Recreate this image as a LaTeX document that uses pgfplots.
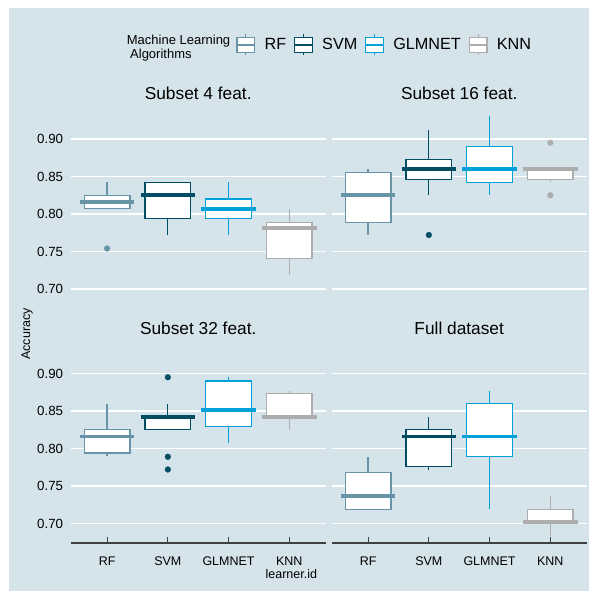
\documentclass[border=0pt]{standalone}
\usepackage{pgfplots}
\pgfplotsset{compat=1.18}
\usepgfplotslibrary{statistics}
\usepackage{fontspec}
\setmainfont{Liberation Sans}
\definecolor{bg}{HTML}{D5E4EB}
\definecolor{cRF}{HTML}{6794A7}
\definecolor{cSVM}{HTML}{014D64}
\definecolor{cGLM}{HTML}{01A2D9}
\definecolor{cKNN}{HTML}{ADADAD}
\definecolor{axgrey}{HTML}{3F3F3F}

\pgfplotsset{
  panel/.style={
    scale only axis, width=255pt, height=201pt,
    xmin=0.4, xmax=4.6, ymin=0.674, ymax=0.942,
    ytick={0.70,0.75,0.80,0.85,0.90},
    axis line style={draw=none},
    ymajorgrids, grid style={white, line width=1.8pt},
    ytick style={draw=none},
    yticklabel style={font=\fontsize{13.3}{14}\selectfont, inner sep=0pt, xshift=-7.4pt,
      /pgf/number format/.cd, fixed, fixed zerofill, precision=2, assume math mode=true},
  },
  toprow/.style={xtick=\empty},
  botrow/.style={
    xtick={1,2,3,4}, xticklabels={RF,SVM,GLMNET,KNN},
    tick align=inside, major tick length=6pt, xtick pos=bottom,
    xtick style={axgrey, line width=1.1pt},
    xticklabel style={font=\fontsize{12.5}{13}\selectfont, inner sep=0pt, yshift=-14pt},
    extra description/.code={\draw[axgrey, line width=1.1pt] (rel axis cs:0,0) -- (rel axis cs:1,0);},
  },
  noylab/.style={yticklabels={}},
  mybox/.style={
    draw=#1, line width=1.3pt,
    only marks, mark=*, mark size=2.9pt, mark options={solid, fill=#1, draw=#1, line width=0.3pt},
    boxplot/draw direction=y,
    boxplot/box extend=0.75,
    boxplot/draw/box/.code={\draw[#1, fill=white, line width=1.3pt] (boxplot box cs:\pgfplotsboxplotvalue{lower quartile},0) rectangle (boxplot box cs:\pgfplotsboxplotvalue{upper quartile},1);},
    boxplot/draw/median/.code={\draw[#1, line width=3.6pt] (boxplot box cs:\pgfplotsboxplotvalue{median},-0.1) -- (boxplot box cs:\pgfplotsboxplotvalue{median},1.1);},
    boxplot/draw/lower whisker/.code={\draw[#1, line width=1.3pt] (boxplot box cs:\pgfplotsboxplotvalue{lower whisker},0.5) -- (boxplot box cs:\pgfplotsboxplotvalue{lower quartile},0.5);},
    boxplot/draw/upper whisker/.code={\draw[#1, line width=1.3pt] (boxplot box cs:\pgfplotsboxplotvalue{upper quartile},0.5) -- (boxplot box cs:\pgfplotsboxplotvalue{upper whisker},0.5);},
  },
  legkey/.style={legend image code/.code={
    \draw[line width=1.2pt, fill=white] (0pt,-7.3pt) rectangle (17.7pt,7.3pt);
    \draw[line width=1.2pt] (0pt,0pt) -- (17.7pt,0pt) (8.85pt,7.3pt) -- (8.85pt,10.5pt) (8.85pt,-7.3pt) -- (8.85pt,-10.5pt);}},
}
% color, position, lower whisker, lower quartile, median, upper quartile, upper whisker, outliers
\newcommand{\bx}[8]{%
  \addplot[mybox=#1, boxplot prepared={draw direction=y, draw position=#2, lower whisker=#3, lower quartile=#4, median=#5, upper quartile=#6, upper whisker=#7}] coordinates {#8};
}

\begin{document}
\begin{tikzpicture}
\path[use as bounding box] (0pt,0pt) rectangle (589pt,-593pt);
\fill[white] (0pt,0pt) rectangle (589pt,-593pt);
\fill[bg] (9pt,-8pt) rectangle (589pt,-591pt);

% Subset 4 feat.
\begin{axis}[panel, toprow, at={(70.7pt,-308.5pt)}, anchor=south west,
  legend columns=4,
  legend style={at={(axis description cs:0.65,1.311)}, anchor=west, draw=none, fill=none,
    inner sep=0pt, outer sep=0pt,
    nodes={inner sep=0pt, font=\fontsize{16.2}{18}\selectfont},
    /tikz/every odd column/.append style={column sep=9.3pt},
    /tikz/every even column/.append style={column sep=7.8pt}},
]
\addlegendimage{cRF, legkey}\addlegendentry{RF}
\addlegendimage{cSVM, legkey}\addlegendentry{SVM}
\addlegendimage{cGLM, legkey}\addlegendentry{GLMNET}
\addlegendimage{cKNN, legkey}\addlegendentry{KNN}
\bx{cRF}{1}{0.807}{0.807}{0.816}{0.825}{0.842}{(0,0.754)}
\bx{cSVM}{2}{0.772}{0.794}{0.825}{0.842}{0.842}{}
\bx{cGLM}{3}{0.772}{0.794}{0.807}{0.820}{0.842}{}
\bx{cKNN}{4}{0.719}{0.741}{0.781}{0.789}{0.807}{}
\end{axis}

% Subset 16 feat.
\begin{axis}[panel, toprow, noylab, at={(331.7pt,-308.5pt)}, anchor=south west]
\bx{cRF}{1}{0.772}{0.789}{0.825}{0.855}{0.860}{}
\bx{cSVM}{2}{0.825}{0.846}{0.860}{0.873}{0.912}{(0,0.772)}
\bx{cGLM}{3}{0.825}{0.842}{0.860}{0.890}{0.930}{}
\bx{cKNN}{4}{0.843}{0.846}{0.860}{0.860}{0.860}{(0,0.895) (0,0.825)}
\end{axis}

% Subset 32 feat.
\begin{axis}[panel, botrow, at={(70.7pt,-543pt)}, anchor=south west]
\bx{cRF}{1}{0.790}{0.794}{0.816}{0.825}{0.860}{}
\bx{cSVM}{2}{0.825}{0.825}{0.842}{0.842}{0.860}{(0,0.895) (0,0.789) (0,0.772)}
\bx{cGLM}{3}{0.807}{0.829}{0.851}{0.890}{0.895}{}
\bx{cKNN}{4}{0.825}{0.842}{0.842}{0.873}{0.877}{}
\end{axis}

% Full dataset
\begin{axis}[panel, botrow, noylab, at={(331.7pt,-543pt)}, anchor=south west]
\bx{cRF}{1}{0.719}{0.719}{0.737}{0.768}{0.789}{}
\bx{cSVM}{2}{0.772}{0.776}{0.816}{0.825}{0.842}{}
\bx{cGLM}{3}{0.719}{0.789}{0.816}{0.860}{0.877}{}
\bx{cKNN}{4}{0.684}{0.702}{0.702}{0.719}{0.737}{}
\end{axis}

% strip titles
\begin{scope}[every node/.style={font=\fontsize{17.3}{18}\selectfont, anchor=base, inner sep=0pt}]
\node at (198.2pt,-100pt) {Subset 4 feat.};
\node at (459.2pt,-100pt) {Subset 16 feat.};
\node at (198.2pt,-334.5pt) {Subset 32 feat.};
\node at (459.2pt,-334.5pt) {Full dataset};
\end{scope}

% legend title
\node[anchor=base west, inner sep=0pt, font=\fontsize{13}{14}\selectfont] at (126.7pt,-45pt) {Machine Learning};
\node[anchor=base west, inner sep=0pt, font=\fontsize{13}{14}\selectfont] at (130pt,-58.3pt) {Algorithms};

% axis titles
\node[inner sep=0pt, font=\fontsize{12.5}{13}\selectfont] at (291.3pt,-574pt) {learner.id};
\node[inner sep=0pt, rotate=90, font=\fontsize{12.5}{13}\selectfont] at (27pt,-334pt) {Accuracy};
\end{tikzpicture}
\end{document}
